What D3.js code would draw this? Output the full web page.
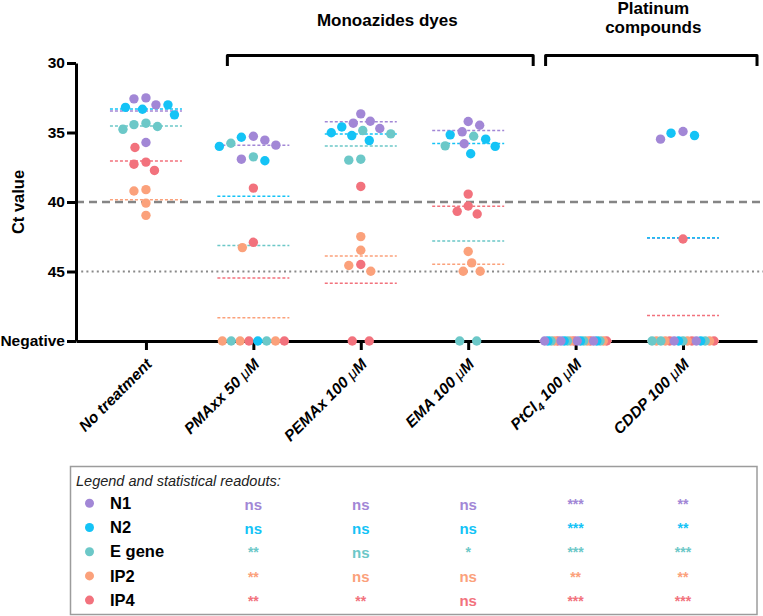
<!DOCTYPE html>
<html><head><meta charset="utf-8">
<script src="https://cdn.jsdelivr.net/npm/d3@7"></script>
<style>
body{margin:0;background:#fff}
svg{display:block}
text{font-family:Arial,"Liberation Sans",Helvetica,sans-serif}
</style>
</head><body>
<svg id="chart" width="763" height="616"></svg>
<script>
// ---------------- DATA ----------------
const categories = ["No treatment", "PMAxx 50 μM", "PEMAx 100 μM", "EMA 100 μM", "PtCl₄ 100 μM", "CDDP 100 μM"];
const genes = ["N1", "N2", "E gene", "IP2", "IP4"];
// Ct values, 4 replicates per treatment; null = Negative (no amplification)
const valuesN1 = [[33.01, 32.58, 32.51, 35.72], [35.27, 35.91, 35.55, 36.92], [34.19, 33.66, 34.71, 34.33], [34.21, 34.95, 35.81, 34.48], [null, null, null, null], [34.93, 35.48, null, null]];
const valuesN2 = [[33.01, 33.73, 33.33, 33.19], [35.34, 36.00, 37.03, null], [35.58, 34.60, 35.22, 35.02], [36.00, 35.17, 36.53, 35.48], [null, null, null, null], [35.05, 35.22, null, null]];
const valuesE = [[34.57, 34.77, 34.43, 34.33], [36.75, 35.77, null, null], [34.86, 35.10, 36.92, 36.99], [35.27, 35.96, null, null], [null, null, null, null], [null, null, null, null]];
const valuesIP2 = [[39.21, 39.11, 40.08, 40.96], [43.28, null, null, null], [42.49, 43.47, 44.57, 44.98], [44.38, 44.98, 44.98, 43.56], [null, null, null, null], [null, null, null, null]];
const valuesIP4 = [[37.28, 37.13, 37.73, 36.08], [39.00, 42.90, null, null], [38.88, 44.50, null, null], [40.29, 40.86, 39.43, 40.67], [null, null, null, null], [42.66, null, null, null]];
const NEGATIVE_VALUE = 50;
const yTickValues = [30, 35, 40, 45, 50];
const yTickLabels = ["30", "35", "40", "45", "Negative"];
const dashedRef = 40;
const dottedRef = 45;
// statistical readouts (vs. No treatment) for categories 2..6
const statsN1 = ["ns", "ns", "ns", "***", "**"];
const statsN2 = ["ns", "ns", "ns", "***", "**"];
const statsE = ["**", "ns", "*", "***", "***"];
const statsIP2 = ["**", "ns", "ns", "**", "**"];
const statsIP4 = ["**", "**", "ns", "***", "***"];
const groupTitles = [["Monoazides dyes"], ["Platinum", "compounds"]];
const groupRanges = [[1, 3], [4, 5]];
const legendTitle = "Legend and statistical readouts:";
const yTitle = "Ct value";

// ---------------- STYLE ----------------
const geneColors = ["#a287d6", "#14c3f6", "#6cc8c8", "#fba17b", "#f2727d"];
const FONT = 'Arial,"Liberation Sans",Helvetica,sans-serif';
const R = 4.7;

const allValues = [valuesN1, valuesN2, valuesE, valuesIP2, valuesIP4];
const allStats = [statsN1, statsN2, statsE, statsIP2, statsIP4];

const svg = d3.select("#chart");
const y = d3.scaleLinear().domain([30, 50]).range([63, 341]);
const x = d3.scalePoint().domain(categories).range([76, 757]).padding(0.67).align(0.486);

// group brackets
const bracketPads = [[-26, 65], [-30, 74]];
const titleShift = [7, 2];
groupRanges.forEach((gr, i) => {
  const x1 = x(categories[gr[0]]) + bracketPads[i][0];
  const x2 = x(categories[gr[1]]) + bracketPads[i][1];
  svg.append("path")
    .attr("d", `M${x1},66V55.5H${x2}V66`)
    .attr("fill", "none").attr("stroke", "#000").attr("stroke-width", 3)
    .attr("stroke-linejoin", "round");
  const lines = groupTitles[i];
  const t = svg.append("text")
    .attr("x", (x1 + x2) / 2 + titleShift[i])
    .attr("y", lines.length === 1 ? 26 : 14)
    .attr("text-anchor", "middle")
    .attr("font-weight", "bold").attr("font-size", 17);
  lines.forEach((l, j) => t.append("tspan").attr("x", (x1 + x2) / 2 + titleShift[i]).attr("dy", j === 0 ? 0 : 18.5).text(l));
});

// reference lines
svg.append("line").attr("x1", 76).attr("x2", 763).attr("y1", y(dashedRef)).attr("y2", y(dashedRef))
  .attr("stroke", "#858585").attr("stroke-width", 2.5).attr("stroke-dasharray", "8,5");
svg.append("line").attr("x1", 76).attr("x2", 763).attr("y1", y(dottedRef)).attr("y2", y(dottedRef))
  .attr("stroke", "#8a8a8a").attr("stroke-width", 2).attr("stroke-dasharray", "2,3.2");

// y axis
const yAxis = svg.append("g").attr("transform", "translate(76,0)")
  .call(d3.axisLeft(y).tickValues(yTickValues).tickFormat((d, i) => yTickLabels[i]).tickSize(9).tickSizeOuter(0).tickPadding(2));
yAxis.select(".domain").attr("stroke-width", 3);
yAxis.selectAll(".tick line").attr("stroke-width", 3);
yAxis.selectAll(".tick text").attr("font-family", FONT).attr("font-weight", "bold").attr("font-size", 15.5).attr("fill", "#000");

// x axis
const xAxis = svg.append("g").attr("transform", `translate(0,${y(NEGATIVE_VALUE)})`)
  .call(d3.axisBottom(x).tickSize(9).tickSizeOuter(0).tickFormat(""));
xAxis.select(".domain").attr("stroke-width", 3);
xAxis.selectAll(".tick line").attr("stroke-width", 3);

// x tick labels (rotated)
categories.forEach(c => {
  const t = svg.append("text")
    .attr("transform", `translate(${x(c) + 7},${y(NEGATIVE_VALUE) + 24}) rotate(-45)`)
    .attr("text-anchor", "end")
    .attr("font-weight", "bold").attr("font-style", "italic").attr("font-size", 15.5).attr("fill", "#000");
  const parts = c.split(/(μ|₄)/).filter(s => s.length);
  let sub = false;
  parts.forEach(p => {
    if (p === "₄") {
      t.append("tspan").attr("font-size", 11).attr("dy", 4).text("4");
      sub = true;
    } else if (p === "μ") {
      t.append("tspan").attr("font-weight", "normal").attr("dy", sub ? -4 : null).text("μ");
      sub = false;
    } else {
      t.append("tspan").attr("dy", sub ? -4 : null).text(p);
      sub = false;
    }
  });
});

// y title
svg.append("text").attr("transform", `translate(24,${y(40)}) rotate(-90)`)
  .attr("text-anchor", "middle").attr("font-weight", "bold").attr("font-size", 16.5).text(yTitle);

// ---------------- POINTS ----------------
function swarm(pts) {
  const placed = [];
  const minD = 2 * R + 2.5;
  pts.slice().sort((a, b) => a.py - b.py).forEach(p => {
    let off = 0;
    for (let k = 0; k < 400; k++) {
      const cands = k === 0 ? [0] : (k % 2 ? [k * 0.5, -k * 0.5] : [-k * 0.5, k * 0.5]);
      const ok = cands.find(o => placed.every(q => {
        const dx = o - q.off, dy = p.py - q.py;
        return dx * dx + dy * dy >= minD * minD;
      }));
      if (ok !== undefined) { off = ok; break; }
    }
    p.off = off;
    placed.push(p);
  });
}

const meanLayer = svg.append("g");
const pointLayer = svg.append("g");
const allPoints = [];

categories.forEach((c, ci) => {
  const pos = [], neg = [];
  for (let r = 0; r < 4; r++) {
    genes.forEach((g, gi) => {
      const v = allValues[gi][ci][r];
      if (v === null) neg.push({ gi, r, py: y(NEGATIVE_VALUE) });
      else pos.push({ gi, r, py: y(v) });
    });
  }
  swarm(pos);
  const n = neg.length;
  const sp = n > 1 ? Math.min(17, 62 / (n - 1)) : 0;
  neg.forEach((p, i) => p.off = (i - (n - 1) / 2) * sp);
  pos.concat(neg).forEach(p => { p.px = x(c) + p.off; allPoints.push(p); });

  // mean lines (negatives counted at the Negative level)
  genes.forEach((g, gi) => {
    const m = d3.mean(allValues[gi][ci], v => v === null ? NEGATIVE_VALUE : v);
    meanLayer.append("line")
      .attr("x1", x(c) - 36).attr("x2", x(c) + 36).attr("y1", y(m)).attr("y2", y(m))
      .attr("stroke", geneColors[gi]).attr("stroke-width", 1.5).attr("stroke-dasharray", "3,2");
  });
});

// draw: later genes first so N1 ends on top
allPoints.sort((a, b) => b.gi - a.gi);
pointLayer.selectAll("circle").data(allPoints).join("circle")
  .attr("cx", d => d.px).attr("cy", d => d.py).attr("r", R)
  .attr("fill", d => geneColors[d.gi]);

// ---------------- LEGEND ----------------
svg.append("rect").attr("x", 70.5).attr("y", 466.5).attr("width", 686.5).attr("height", 148)
  .attr("fill", "none").attr("stroke", "#9c9c9c").attr("stroke-width", 1.5);
svg.append("text").attr("x", 76).attr("y", 485.5).attr("font-style", "italic").attr("font-size", 14.5)
  .attr("fill", "#222").text(legendTitle);

genes.forEach((g, gi) => {
  const base = 509 + gi * 24.2;
  svg.append("circle").attr("cx", 89.5).attr("cy", base - 5.7).attr("r", 4.5).attr("fill", geneColors[gi]);
  svg.append("text").attr("x", 110).attr("y", base).attr("font-weight", "bold").attr("font-size", 16.5)
    .attr("fill", "#000").text(g);
  allStats[gi].forEach((s, si) => {
    svg.append("text").attr("x", x(categories[si + 1])).attr("y", base + (s === "ns" ? 0.5 : 0))
      .attr("text-anchor", "middle").attr("font-weight", "bold").attr("font-size", s === "ns" ? 15 : 14)
      .attr("fill", geneColors[gi]).text(s);
  });
});
</script>
</body></html>
